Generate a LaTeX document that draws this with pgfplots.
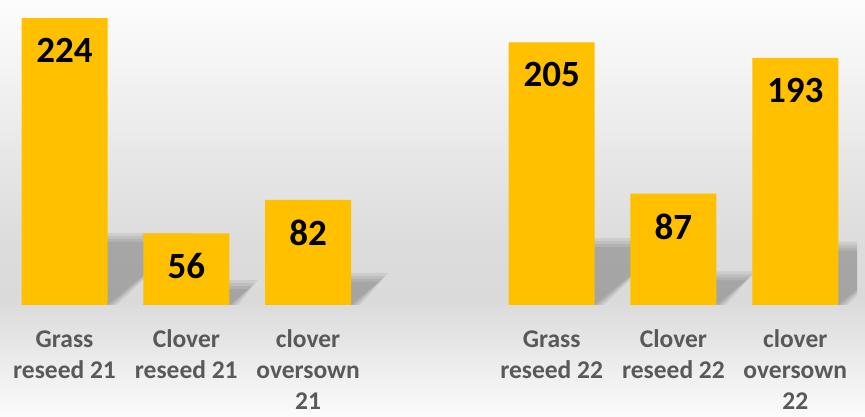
\documentclass[border=0pt]{standalone}
\usepackage{fontspec}
\setmainfont{Carlito}
\usepackage{pgfplots}
\pgfplotsset{compat=1.18}
\definecolor{barcol}{HTML}{FFC000}
\definecolor{lblcol}{HTML}{595959}
\definecolor{bg0}{gray}{0.985}
\definecolor{bg1}{gray}{0.950}
\definecolor{bg2}{gray}{0.855}
\definecolor{bg3}{gray}{0.865}
\definecolor{bg4}{gray}{0.910}
\definecolor{bg5}{gray}{0.960}
\definecolor{bg6}{gray}{0.990}
\pgfplotsset{shadow/.style={draw=none, fill=black, fill opacity=0.065}}

\begin{document}
\begin{tikzpicture}
\useasboundingbox (0pt,0pt) rectangle (865pt,417pt);
% soft grey background band
\shade[bottom color=bg0, top color=bg1] (0pt,0pt) rectangle (865pt,32.5pt);
\shade[bottom color=bg1, top color=bg2] (0pt,32pt) rectangle (865pt,117.5pt);
\shade[bottom color=bg2, top color=bg3] (0pt,117pt) rectangle (865pt,177.5pt);
\shade[bottom color=bg3, top color=bg4] (0pt,177pt) rectangle (865pt,267.5pt);
\shade[bottom color=bg4, top color=bg5] (0pt,267pt) rectangle (865pt,357.5pt);
\shade[bottom color=bg5, top color=bg6] (0pt,357pt) rectangle (865pt,417pt);

\begin{axis}[
  at={(0pt,112pt)}, anchor=south west,
  scale only axis, width=857pt, height=305pt,
  xmin=-0.53, xmax=6.507, ymin=0, ymax=238.1,
  axis line style={draw=none},
  ytick=\empty,
  xtick={0,1,2,4,5,6},
  major tick length=0pt,
  xticklabels={{Grass\\reseed 21},{Clover\\reseed 21},{clover\\oversown\\21},
               {Grass\\reseed 22},{Clover\\reseed 22},{clover\\oversown\\22}},
  typeset ticklabels with strut,
  xticklabel style={font=\fontsize{25.5}{31}\selectfont\bfseries, text=lblcol,
                    align=center, anchor=north, inner sep=0pt, yshift=-21pt},
  /pgf/number format/assume math mode=true,
  clip=true,
]
% soft drop shadows, four layers per bar
\addplot[shadow] coordinates {(-0.353,0) (0.353,0) (0.980,49.28) (0.274,49.28)} -- cycle;
\addplot[shadow] coordinates {(-0.353,0) (0.378,0) (1.005,51.62) (0.274,51.62)} -- cycle;
\addplot[shadow] coordinates {(-0.353,0) (0.402,0) (1.029,53.96) (0.274,53.96)} -- cycle;
\addplot[shadow] coordinates {(-0.353,0) (0.427,0) (1.054,56.31) (0.274,56.31)} -- cycle;
\addplot[shadow] coordinates {(0.647,0) (1.353,0) (1.510,12.32) (0.804,12.32)} -- cycle;
\addplot[shadow] coordinates {(0.647,0) (1.378,0) (1.535,14.66) (0.804,14.66)} -- cycle;
\addplot[shadow] coordinates {(0.647,0) (1.402,0) (1.559,17.00) (0.804,17.00)} -- cycle;
\addplot[shadow] coordinates {(0.647,0) (1.427,0) (1.584,19.35) (0.804,19.35)} -- cycle;
\addplot[shadow] coordinates {(1.647,0) (2.353,0) (2.583,18.04) (1.877,18.04)} -- cycle;
\addplot[shadow] coordinates {(1.647,0) (2.378,0) (2.608,20.38) (1.877,20.38)} -- cycle;
\addplot[shadow] coordinates {(1.647,0) (2.402,0) (2.632,22.72) (1.877,22.72)} -- cycle;
\addplot[shadow] coordinates {(1.647,0) (2.427,0) (2.657,25.07) (1.877,25.07)} -- cycle;
\addplot[shadow] coordinates {(3.647,0) (4.353,0) (4.927,45.10) (4.221,45.10)} -- cycle;
\addplot[shadow] coordinates {(3.647,0) (4.378,0) (4.952,47.44) (4.221,47.44)} -- cycle;
\addplot[shadow] coordinates {(3.647,0) (4.402,0) (4.976,49.78) (4.221,49.78)} -- cycle;
\addplot[shadow] coordinates {(3.647,0) (4.427,0) (5.001,52.13) (4.221,52.13)} -- cycle;
\addplot[shadow] coordinates {(4.647,0) (5.353,0) (5.597,19.14) (4.891,19.14)} -- cycle;
\addplot[shadow] coordinates {(4.647,0) (5.378,0) (5.622,21.48) (4.891,21.48)} -- cycle;
\addplot[shadow] coordinates {(4.647,0) (5.402,0) (5.646,23.82) (4.891,23.82)} -- cycle;
\addplot[shadow] coordinates {(4.647,0) (5.427,0) (5.671,26.17) (4.891,26.17)} -- cycle;
\addplot[shadow] coordinates {(5.647,0) (6.353,0) (6.893,42.46) (6.187,42.46)} -- cycle;
\addplot[shadow] coordinates {(5.647,0) (6.378,0) (6.918,44.80) (6.187,44.80)} -- cycle;
\addplot[shadow] coordinates {(5.647,0) (6.402,0) (6.942,47.14) (6.187,47.14)} -- cycle;
\addplot[shadow] coordinates {(5.647,0) (6.427,0) (6.967,49.49) (6.187,49.49)} -- cycle;
% bars
\addplot[ybar, bar width=0.706, fill=barcol, draw=none,
  nodes near coords, nodes near coords align={below},
  every node near coord/.append style={font=\fontsize{37}{44}\selectfont\bfseries,
    text=black, inner sep=0pt, yshift=-20pt}]
  coordinates {(0,224) (1,56) (2,82) (4,205) (5,87) (6,193)};
\end{axis}
\end{tikzpicture}
\end{document}
